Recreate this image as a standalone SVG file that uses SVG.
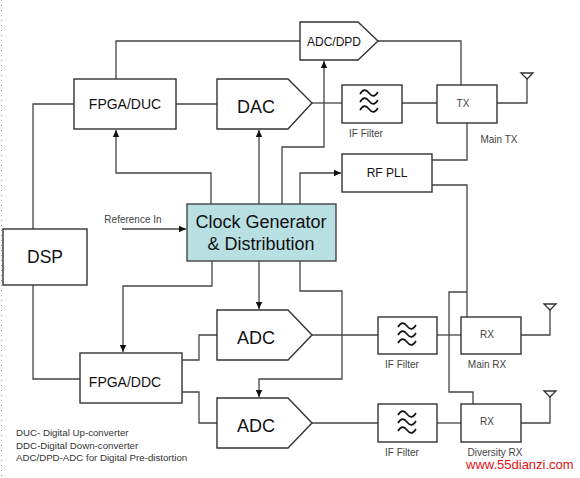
<svg xmlns="http://www.w3.org/2000/svg" width="580" height="478" viewBox="0 0 580 478">
<style>
.box{fill:#fff;stroke:#333;stroke-width:1.4}
.conn{fill:none;stroke:#444;stroke-width:1.3}
.t{font-family:"Liberation Sans",Arial,sans-serif;fill:#111;text-anchor:middle}
.s{font-family:"Liberation Sans",Arial,sans-serif;fill:#444;text-anchor:middle;font-size:10px}
.wave{fill:none;stroke:#111;stroke-width:1.6}
.ant{fill:#fff;stroke:#333;stroke-width:1.3}
</style>
<defs>
<marker id="arr" markerWidth="8" markerHeight="8" refX="7" refY="4" orient="auto" markerUnits="userSpaceOnUse">
<path d="M0,0.8 L7,4 L0,7.2 Z" fill="#111"/>
</marker>
<g id="waves">
<path class="wave" d="M-9,1 c3,-5 6,-5 9,-1 s6,4 9,-1"/>
<path class="wave" d="M-9,9 c3,-5 6,-5 9,-1 s6,4 9,-1"/>
<path class="wave" d="M-9,-7 c3,-5 6,-5 9,-1 s6,4 9,-1"/>
</g>
</defs>
<rect width="580" height="478" fill="#fff"/>
<line x1="1.5" y1="0" x2="1.5" y2="478" stroke="#999" stroke-width="1" stroke-dasharray="1,4"/>

<g id="connectors">
<path class="conn" d="M116,79 V41 H300"/>
<path class="conn" d="M33,229 V104 H74"/>
<path class="conn" d="M176,104 H217"/>
<path class="conn" d="M211,204 V173 H116 V130" marker-end="url(#arr)"/>
<path class="conn" d="M259,204 V130" marker-end="url(#arr)"/>
<path class="conn" d="M282,204 V147 H324 V61" marker-end="url(#arr)"/>
<path class="conn" d="M300,204 V173 H341" marker-end="url(#arr)"/>
<path class="conn" d="M312,103 H342"/>
<path class="conn" d="M402,103 H437"/>
<path class="conn" d="M378,41 H461 V85"/>
<path class="conn" d="M497,103 H527 V78"/>
<path class="conn" d="M432,160 H467 V123"/>
<path class="conn" d="M432,185 H467 V317"/>
<path class="conn" d="M467,292 H449 V392 H473 V404"/>
<path class="conn" d="M122,229 H186" marker-end="url(#arr)"/>
<path class="conn" d="M212,261 V286 H123 V352" marker-end="url(#arr)"/>
<path class="conn" d="M259,261 V309" marker-end="url(#arr)"/>
<path class="conn" d="M300,261 V291 H342 V379 H259 V397" marker-end="url(#arr)"/>
<path class="conn" d="M33,285 V379 H80"/>
<path class="conn" d="M182,360 H199 V335 H217"/>
<path class="conn" d="M182,392 H199 V423 H217"/>
<path class="conn" d="M312,335 H378"/>
<path class="conn" d="M437,335 H461"/>
<path class="conn" d="M521,335 H550 V310"/>
<path class="conn" d="M312,423 H378"/>
<path class="conn" d="M437,423 H461"/>
<path class="conn" d="M521,423 H550 V397"/>
<path class="ant" d="M521,73 H533 L527,79 Z"/>
<path class="ant" d="M544,304 H556 L550,310 Z"/>
<path class="ant" d="M544,391 H556 L550,397 Z"/>
</g>

<g id="fpga-duc">
<rect class="box" x="74" y="79" width="102" height="50"/>
<text class="t" x="125" y="109" font-size="14">FPGA/DUC</text>
</g>
<g id="dac">
<path class="box" d="M217,79 H288 L312,103 L288,129 H217 Z"/>
<text class="t" x="256" y="113" font-size="18">DAC</text>
</g>
<g id="adc-dpd">
<path class="box" d="M300,22 H358 L378,41 L358,60 H300 Z"/>
<text class="t" x="334" y="46" font-size="12">ADC/DPD</text>
</g>
<g id="if-filter-tx">
<rect class="box" x="342" y="85" width="60" height="38"/>
<use href="#waves" x="369" y="101"/>
<text class="s" x="366" y="137">IF Filter</text>
</g>
<g id="tx">
<rect class="box" x="437" y="85" width="60" height="38"/>
<text class="s" x="463" y="107" font-size="11">TX</text>
<text class="s" x="499" y="143">Main TX</text>
</g>
<g id="rf-pll">
<rect class="box" x="342" y="154" width="90" height="38"/>
<text class="t" x="387" y="177" font-size="12">RF PLL</text>
</g>
<g id="clock">
<rect x="187" y="204" width="149" height="57" fill="#b8dfe2" stroke="#444" stroke-width="1.4"/>
<text class="t" x="261" y="228" font-size="18">Clock Generator</text>
<text class="t" x="261" y="250" font-size="18">&amp; Distribution</text>
</g>
<g id="ref-in">
<text class="s" x="133" y="223" font-size="9.6">Reference In</text>
</g>
<g id="dsp">
<rect class="box" x="3" y="229" width="84" height="56"/>
<text class="t" x="45" y="263" font-size="17.5">DSP</text>
</g>
<g id="fpga-ddc">
<rect class="box" x="80" y="353" width="102" height="50"/>
<text class="t" x="125" y="387" font-size="14">FPGA/DDC</text>
</g>
<g id="adc1">
<path class="box" d="M217,310 H288 L312,335 L288,360 H217 Z"/>
<text class="t" x="256" y="344" font-size="18">ADC</text>
</g>
<g id="adc2">
<path class="box" d="M217,398 H288 L312,423 L288,448 H217 Z"/>
<text class="t" x="256" y="432" font-size="18">ADC</text>
</g>
<g id="if-filter-rx1">
<rect class="box" x="378" y="317" width="59" height="37"/>
<use href="#waves" x="407" y="334"/>
<text class="s" x="402" y="368">IF Filter</text>
</g>
<g id="main-rx">
<rect class="box" x="461" y="317" width="60" height="37"/>
<text class="s" x="487" y="338" font-size="11">RX</text>
<text class="s" x="487" y="368">Main RX</text>
</g>
<g id="if-filter-rx2">
<rect class="box" x="378" y="404" width="59" height="38"/>
<use href="#waves" x="407" y="422"/>
<text class="s" x="402" y="456">IF Filter</text>
</g>
<g id="diversity-rx">
<rect class="box" x="461" y="404" width="60" height="38"/>
<text class="s" x="487" y="425" font-size="11">RX</text>
<text class="s" x="495" y="456">Diversity RX</text>
</g>
<g id="legend" font-family="'Liberation Sans',Arial,sans-serif" font-size="9.7" fill="#333">
<text x="16" y="436">DUC- Digital Up-converter</text>
<text x="16" y="449">DDC-Digital Down-converter</text>
<text x="16" y="461">ADC/DPD-ADC for Digital Pre-distortion</text>
</g>
<text x="466" y="469" font-family="'Liberation Sans',Arial,sans-serif" font-size="13" fill="#e01010">www.55dianzi.com</text>
</svg>
